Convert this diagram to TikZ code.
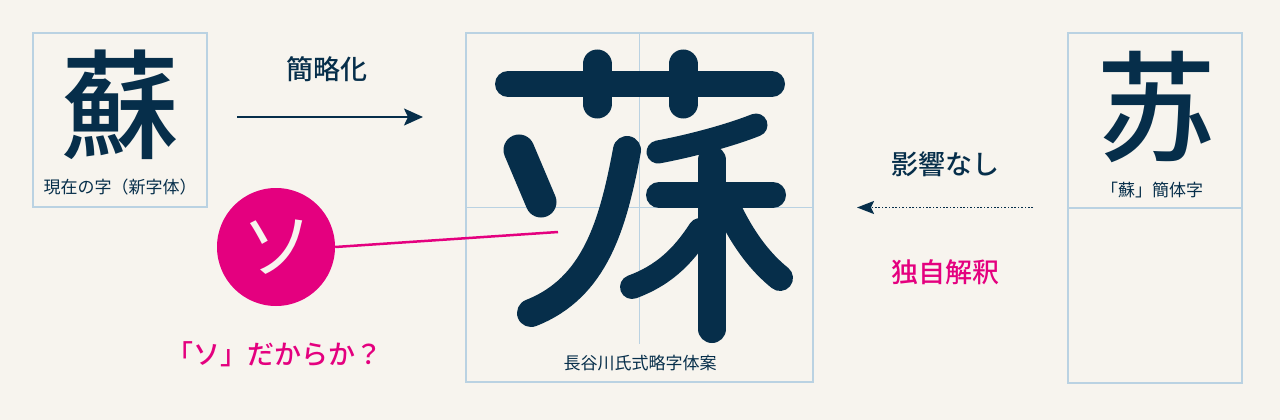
\documentclass[tikz,border=0pt]{standalone}
\usepackage{fontspec}
\usetikzlibrary{arrows.meta}
\newfontfamily\jp{Noto Sans CJK JP}
\newfontfamily\jpm{Noto Sans CJK JP Medium}
\definecolor{bg}{HTML}{F7F4EE}
\definecolor{navy}{HTML}{062E4A}
\definecolor{mag}{HTML}{E4007F}
\definecolor{grid}{HTML}{BAD2E2}
\tikzset{
  frame/.style={draw=grid, line width=1.5pt},
  gridline/.style={draw=grid, line width=1.2pt},
  bigchar/.style={inner sep=0pt, text=navy, font=\jpm\fontsize{118}{118}\selectfont},
  label/.style={inner sep=0pt, text=navy, font=\jp\fontsize{17}{17}\selectfont},
  biglabel/.style={inner sep=0pt, font=\jpm\fontsize{27}{27}\selectfont},
  gstroke/.style={draw=navy, line cap=round, line join=round},
}
\begin{document}
\begin{tikzpicture}[x=1pt,y=-1pt]
\fill[bg] (0,0) rectangle (1280,420);
\useasboundingbox (0,0) rectangle (1280,420);
% left box
\draw[frame] (33,33) rectangle (207,207);
\node[bigchar] (su) at (120,105) {蘇};
\node[label] (sulab) at (120,187) {現在の字（新字体）};
% arrow
\coordinate (a1) at (237,117);
\coordinate (a2) at (423,117);
\draw[navy, line width=2pt, -{Stealth[length=19pt,width=17pt,inset=4pt]}] (a1) -- (a2);
\node[biglabel, text=navy] (kan) at (327,69) {簡略化};
% centre box
\draw[frame] (466,33) rectangle (813,382);
\coordinate (vt) at (639.5,33);
\coordinate (vb) at (639.5,344);
\coordinate (hl) at (466,207.5);
\coordinate (hr) at (813,207.5);
\draw[gridline] (vt) -- (vb);
\draw[gridline] (hl) -- (hr);
\node[label] (hase) at (640,363) {長谷川氏式略字体案};
% central glyph
\draw[gstroke, line width=26pt] (508,84) -- (772,84);
\draw[gstroke, line width=29pt] (597,64) -- (597,104);
\draw[gstroke, line width=29pt] (683,64) -- (683,104);
\draw[gstroke, line width=31pt] (519,150) -- (541,202);
\draw[gstroke, line width=28pt] (627,150) .. controls (613,225) and (595,288) .. (531,313);
\draw[gstroke, line width=23pt] (658,152) .. controls (690,146) and (728,136) .. (756,125);
\draw[gstroke, line width=26pt] (659,195) -- (773,195);
\draw[gstroke, line width=28pt] (712,160) -- (712,329);
\draw[gstroke, line width=24pt] (700,230) .. controls (682,258) and (662,276) .. (632,287);
\draw[gstroke, line width=26pt] (731,214) .. controls (744,240) and (760,262) .. (780,278);
% magenta circle and line
\node[circle, fill=mag, minimum size=118pt, inner sep=0pt] (so) at (276,247) {};
\node[inner sep=0pt, text=bg, font=\jp\fontsize{72}{72}\selectfont] (sotxt) at (277,247) {ソ};
\coordinate (soend) at (558,232);
\draw[mag, line width=2.5pt] (so.east) -- (soend);
\node[biglabel, text=mag] (q) at (274,354) {「ソ」だからか？};
% right box
\draw[frame] (1068,33) rectangle (1242,383);
\coordinate (rl) at (1068,208);
\coordinate (rr) at (1242,208);
\draw[gridline] (rl) -- (rr);
\node[bigchar, font=\jpm\fontsize{120}{120}\selectfont] (susimp) at (1156,107) {苏};
\node[label] (simplab) at (1152,190) {「蘇」簡体字};
% dotted arrow
\coordinate (d1) at (1033,207.5);
\coordinate (d2) at (857,207.5);
\draw[navy, line width=1.6pt, dash pattern=on 1.6pt off 1.8pt, -{Stealth[length=17pt,width=13pt,inset=3pt]}] (d1) -- (d2);
\node[biglabel, text=navy] (eik) at (945,164) {影響なし};
\node[biglabel, text=mag] (doku) at (945,272) {独自解釈};
\end{tikzpicture}
\end{document}
